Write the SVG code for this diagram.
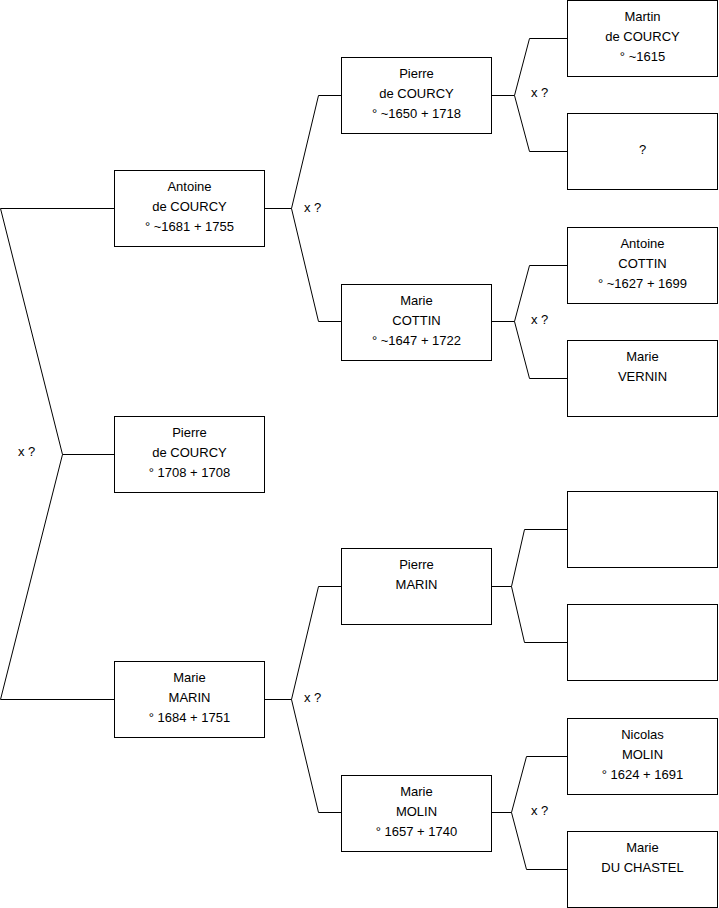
<svg xmlns="http://www.w3.org/2000/svg" width="719" height="908" viewBox="0 0 719 908">
<style>
rect{fill:#fff;stroke:#000;stroke-width:1}
text{font-family:"Liberation Sans",Arial,sans-serif;font-size:13px;fill:#000;stroke:none;text-anchor:middle}
.c{fill:none;stroke:#000;stroke-width:1}
text.x{text-anchor:start}
</style>
<rect x="0" y="0" width="719" height="908" style="stroke:none"/>
<g id="connectors">
<polyline class="c" points="114,208.5 0.5,208.5 62.5,454.5 0.5,699.5 114,699.5"/>
<line class="c" x1="62.5" y1="454.5" x2="114" y2="454.5"/>
<polyline class="c" points="341,95.5 318.5,95.5 291.5,208.5 318.5,321.5 341,321.5"/>
<line class="c" x1="265" y1="208.5" x2="291.5" y2="208.5"/>
<polyline class="c" points="341,586.5 318.5,586.5 291.5,699.5 318.5,812.5 341,812.5"/>
<line class="c" x1="265" y1="699.5" x2="291.5" y2="699.5"/>
<polyline class="c" points="567,38.5 529.5,38.5 514.5,95.5 529.5,151.5 567,151.5"/>
<line class="c" x1="491" y1="95.5" x2="514.5" y2="95.5"/>
<polyline class="c" points="567,265.5 529.5,265.5 514.5,321.5 529.5,378.5 567,378.5"/>
<line class="c" x1="491" y1="321.5" x2="514.5" y2="321.5"/>
<polyline class="c" points="567,529.5 524.5,529.5 511.5,586.5 524.5,642.5 567,642.5"/>
<line class="c" x1="491" y1="586.5" x2="511.5" y2="586.5"/>
<polyline class="c" points="567,756.5 526.5,756.5 511.5,812.5 526.5,869.5 567,869.5"/>
<line class="c" x1="491" y1="812.5" x2="511.5" y2="812.5"/>
<text class="x" x="18" y="456">x ?</text>
<text class="x" x="304" y="212">x ?</text>
<text class="x" x="304" y="702">x ?</text>
<text class="x" x="531" y="97">x ?</text>
<text class="x" x="531" y="324">x ?</text>
<text class="x" x="531" y="815">x ?</text>
</g>
<g id="n-antoine-courcy"><rect x="114.5" y="170.5" width="150" height="76"/><text x="189.5" y="191">Antoine</text><text x="189.5" y="211">de COURCY</text><text x="189.5" y="231">° ~1681 + 1755</text></g>
<g id="n-pierre-courcy-1708"><rect x="114.5" y="416.5" width="150" height="76"/><text x="189.5" y="437">Pierre</text><text x="189.5" y="457">de COURCY</text><text x="189.5" y="477">° 1708 + 1708</text></g>
<g id="n-marie-marin"><rect x="114.5" y="661.5" width="150" height="76"/><text x="189.5" y="682">Marie</text><text x="189.5" y="702">MARIN</text><text x="189.5" y="722">° 1684 + 1751</text></g>
<g id="n-pierre-courcy-1650"><rect x="341.5" y="57.5" width="150" height="76"/><text x="416.5" y="78">Pierre</text><text x="416.5" y="98">de COURCY</text><text x="416.5" y="118">° ~1650 + 1718</text></g>
<g id="n-marie-cottin"><rect x="341.5" y="284.5" width="150" height="76"/><text x="416.5" y="305">Marie</text><text x="416.5" y="325">COTTIN</text><text x="416.5" y="345">° ~1647 + 1722</text></g>
<g id="n-pierre-marin"><rect x="341.5" y="548.5" width="150" height="76"/><text x="416.5" y="569">Pierre</text><text x="416.5" y="589">MARIN</text></g>
<g id="n-marie-molin"><rect x="341.5" y="775.5" width="150" height="76"/><text x="416.5" y="796">Marie</text><text x="416.5" y="816">MOLIN</text><text x="416.5" y="836">° 1657 + 1740</text></g>
<g id="n-martin-courcy"><rect x="567.5" y="0.5" width="150" height="76"/><text x="642.5" y="21">Martin</text><text x="642.5" y="41">de COURCY</text><text x="642.5" y="61">° ~1615</text></g>
<g id="n-unknown"><rect x="567.5" y="113.5" width="150" height="76"/><text x="642.5" y="154">?</text></g>
<g id="n-antoine-cottin"><rect x="567.5" y="227.5" width="150" height="76"/><text x="642.5" y="248">Antoine</text><text x="642.5" y="268">COTTIN</text><text x="642.5" y="288">° ~1627 + 1699</text></g>
<g id="n-marie-vernin"><rect x="567.5" y="340.5" width="150" height="76"/><text x="642.5" y="361">Marie</text><text x="642.5" y="381">VERNIN</text></g>
<g id="n-blank-1"><rect x="567.5" y="491.5" width="150" height="76"/></g>
<g id="n-blank-2"><rect x="567.5" y="604.5" width="150" height="76"/></g>
<g id="n-nicolas-molin"><rect x="567.5" y="718.5" width="150" height="76"/><text x="642.5" y="739">Nicolas</text><text x="642.5" y="759">MOLIN</text><text x="642.5" y="779">° 1624 + 1691</text></g>
<g id="n-marie-du-chastel"><rect x="567.5" y="831.5" width="150" height="76"/><text x="642.5" y="852">Marie</text><text x="642.5" y="872">DU CHASTEL</text></g>
</svg>
